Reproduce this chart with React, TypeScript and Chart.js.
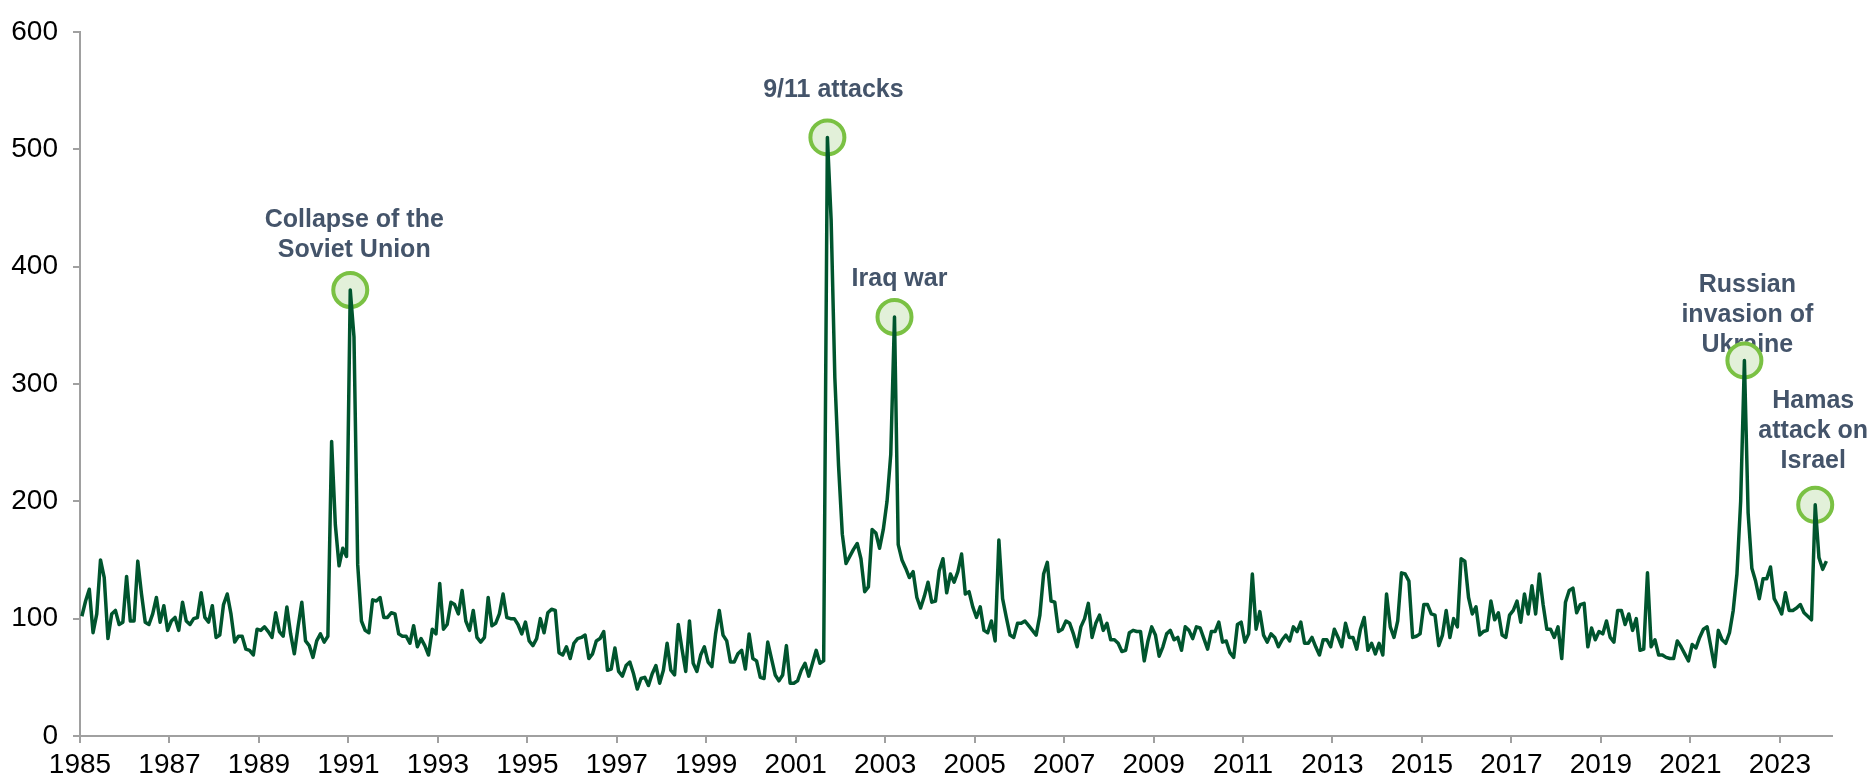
import React, { useEffect, useRef } from 'react';
import { Chart, registerables } from 'chart.js';

Chart.register(...registerables);

// Monthly geopolitical risk index, Jan 1985 – Jan 2024
const gpr1985to1989 = [
  102, 115, 125, 88, 104, 150, 135, 83, 104, 107, 95, 97,
  136, 98, 98, 149, 121, 97, 95, 104, 118, 97, 111, 90,
  98, 101, 90, 114, 98, 95, 100, 101, 122, 101, 97, 111,
  84, 86, 112, 121, 104, 80, 85, 85, 74, 73, 69, 91,
  90, 93, 89, 84, 105, 89, 85, 110, 87, 70, 93, 114,
];
const gpr1990to1994 = [
  81, 77, 67, 81, 87, 80, 85, 251, 180, 145, 160, 153,
  380, 340, 146, 98, 90, 88, 116, 115, 118, 101, 101, 105,
  104, 87, 85, 85, 79, 94, 76, 83, 77, 69, 91, 87,
  130, 91, 95, 114, 112, 104, 124, 98, 90, 107, 84, 80,
  84, 118, 94, 96, 104, 121, 101, 100, 100, 95, 87, 97,
];
const gpr1995to1999 = [
  81, 77, 83, 100, 88, 105, 108, 107, 71, 69, 76, 66,
  79, 83, 84, 86, 66, 70, 81, 83, 89, 56, 57, 75,
  55, 51, 60, 63, 53, 40, 49, 50, 43, 53, 60, 45,
  56, 79, 56, 52, 95, 74, 55, 98, 62, 55, 69, 76,
  63, 59, 87, 107, 86, 81, 63, 63, 70, 73, 57, 87,
];
const gpr2000to2004 = [
  66, 64, 50, 49, 80, 66, 52, 47, 52, 77, 45, 45,
  47, 56, 62, 51, 62, 73, 62, 64, 510, 440, 305, 230,
  172, 147, 153, 159, 164, 151, 123, 127, 176, 173, 160, 176,
  200, 240, 357, 163, 150, 143, 135, 140, 118, 109, 119, 131,
  114, 115, 141, 151, 122, 138, 131, 140, 155, 121, 123, 110,
];
const gpr2005to2009 = [
  101, 110, 90, 88, 98, 81, 167, 117, 101, 86, 84, 96,
  96, 98, 94, 90, 86, 103, 138, 148, 115, 114, 89, 91,
  98, 96, 87, 76, 93, 100, 113, 84, 96, 103, 90, 96,
  82, 82, 79, 72, 73, 88, 90, 89, 89, 64, 81, 93,
  86, 68, 76, 87, 90, 82, 84, 73, 93, 90, 83, 93,
];
const gpr2010to2014 = [
  92, 83, 74, 89, 89, 97, 80, 81, 71, 67, 95, 97,
  80, 87, 138, 91, 106, 86, 80, 87, 84, 76, 82, 86,
  81, 93, 89, 97, 79, 79, 84, 76, 69, 82, 82, 76,
  91, 84, 76, 96, 84, 84, 74, 91, 101, 73, 79, 70,
  79, 69, 121, 93, 84, 98, 139, 138, 132, 84, 85, 87,
];
const gpr2015to2019 = [
  112, 112, 104, 103, 77, 86, 107, 84, 100, 93, 151, 149,
  118, 104, 110, 86, 89, 90, 115, 99, 105, 86, 84, 103,
  107, 115, 97, 121, 104, 128, 104, 138, 112, 91, 91, 84,
  93, 66, 114, 124, 126, 105, 112, 113, 76, 92, 82, 89,
  87, 98, 84, 80, 107, 107, 95, 104, 90, 100, 73, 74,
];
const gpr2020to2024 = [
  139, 76, 82, 69, 69, 67, 66, 66, 81, 76, 70, 64,
  78, 75, 84, 91, 93, 76, 59, 90, 82, 79, 88, 107,
  138, 200, 320, 190, 143, 132, 117, 134, 134, 144, 117, 111,
  104, 122, 107, 107, 109, 112, 105, 102, 99, 197, 152, 142,
  149,
];

const xTickLabels = [
  '1985', '1987', '1989', '1991', '1993', '1995', '1997', '1999', '2001', '2003',
  '2005', '2007', '2009', '2011', '2013', '2015', '2017', '2019', '2021', '2023',
];
const yTickValues = [0, 100, 200, 300, 400, 500, 600];

// Highlighted events: month index (from Jan 1985) and label lines
const eventMonthIndex = [72, 200, 218, 446, 465];
const eventLabels = [
  ['Collapse of the', 'Soviet Union'],
  ['9/11 attacks'],
  ['Iraq war'],
  ['Russian', 'invasion of', 'Ukraine'],
  ['Hamas', 'attack on', 'Israel'],
];

const monthlyValues = [
  ...gpr1985to1989,
  ...gpr1990to1994,
  ...gpr1995to1999,
  ...gpr2000to2004,
  ...gpr2005to2009,
  ...gpr2010to2014,
  ...gpr2015to2019,
  ...gpr2020to2024,
];

export default function App() {
  const ref = useRef<HTMLCanvasElement>(null);

  useEffect(() => {
    const canvas = ref.current;
    if (!canvas) return;
    const family = "'Liberation Sans', Arial, Helvetica, sans-serif";
    // label placement relative to each circle: [dx, dy of last baseline]
    const labelOffsets = [
      [4, -33],
      [6, -40],
      [5, -31],
      [3, -8],
      [-2, -37],
    ];
    const lineGap = 30;

    const eventPlugin = {
      id: 'eventMarkers',
      beforeDatasetsDraw(chart: any) {
        const { ctx } = chart;
        const xs = chart.scales.x;
        const ys = chart.scales.y;
        ctx.save();
        ctx.font = `bold 25px ${family}`;
        ctx.fillStyle = '#44546a';
        ctx.textAlign = 'center';
        ctx.textBaseline = 'alphabetic';
        eventMonthIndex.forEach((mi, k) => {
          const cx = xs.getPixelForValue(mi + 0.5);
          const cy = ys.getPixelForValue(monthlyValues[mi]);
          const lines = eventLabels[k];
          const [dx, dy] = labelOffsets[k];
          lines.forEach((t, j) => {
            ctx.fillText(t, cx + dx, cy + dy - (lines.length - 1 - j) * lineGap);
          });
        });
        eventMonthIndex.forEach((mi) => {
          const cx = xs.getPixelForValue(mi + 0.5);
          const cy = ys.getPixelForValue(monthlyValues[mi]);
          ctx.beginPath();
          ctx.arc(cx, cy, 17, 0, Math.PI * 2);
          ctx.fillStyle = '#e2f0d9';
          ctx.fill();
          ctx.lineWidth = 4;
          ctx.strokeStyle = '#7ac143';
          ctx.stroke();
        });
        ctx.restore();
      },
    };

    const axisColor = '#a0a0a0';

    const chart = new Chart(canvas, {
      type: 'line',
      data: {
        datasets: [
          {
            data: monthlyValues.map((v, i) => ({ x: i + 0.5, y: v })),
            borderColor: '#00552e',
            borderWidth: 3.5,
            pointRadius: 0,
            tension: 0,
            fill: false,
            borderJoinStyle: 'round',
          } as any,
        ],
      },
      options: {
        responsive: false,
        animation: false,
        devicePixelRatio: 1,
        layout: { padding: { top: 25, right: 42, left: 0, bottom: 0 } },
        plugins: {
          legend: { display: false },
          tooltip: { enabled: false },
        },
        scales: {
          x: {
            type: 'linear',
            min: 0,
            max: 470,
            afterBuildTicks: (s: any) => {
              s.ticks = xTickLabels.map((_, i) => ({ value: i * 24 }));
            },
            ticks: {
              callback: (v: any) => xTickLabels[Math.round(Number(v) / 24)] ?? '',
              autoSkip: false,
              maxRotation: 0,
              minRotation: 0,
              font: { family, size: 28 },
              color: '#000',
              padding: 5,
            },
            grid: {
              drawOnChartArea: false,
              drawTicks: true,
              tickLength: 7,
              color: axisColor,
              lineWidth: 2,
            },
            border: { color: axisColor, width: 2 },
            afterFit: (s: any) => {
              s.height = 44;
            },
          },
          y: {
            min: 0,
            max: 600,
            afterBuildTicks: (s: any) => {
              s.ticks = yTickValues.map((v) => ({ value: v }));
            },
            ticks: {
              font: { family, size: 28 },
              color: '#000',
              padding: 15,
            },
            grid: {
              drawOnChartArea: false,
              drawTicks: true,
              tickLength: 7,
              color: axisColor,
              lineWidth: 2,
            },
            border: { color: axisColor, width: 2 },
            afterFit: (s: any) => {
              s.width = 80;
            },
          },
        },
      } as any,
      plugins: [eventPlugin],
    });

    return () => chart.destroy();
  }, []);

  return (
    <div style={{ position: 'absolute', left: 0, top: 0, width: 1874, height: 780, background: '#fff' }}>
      <canvas ref={ref} width={1874} height={780} style={{ width: 1874, height: 780, display: 'block' }} />
    </div>
  );
}
